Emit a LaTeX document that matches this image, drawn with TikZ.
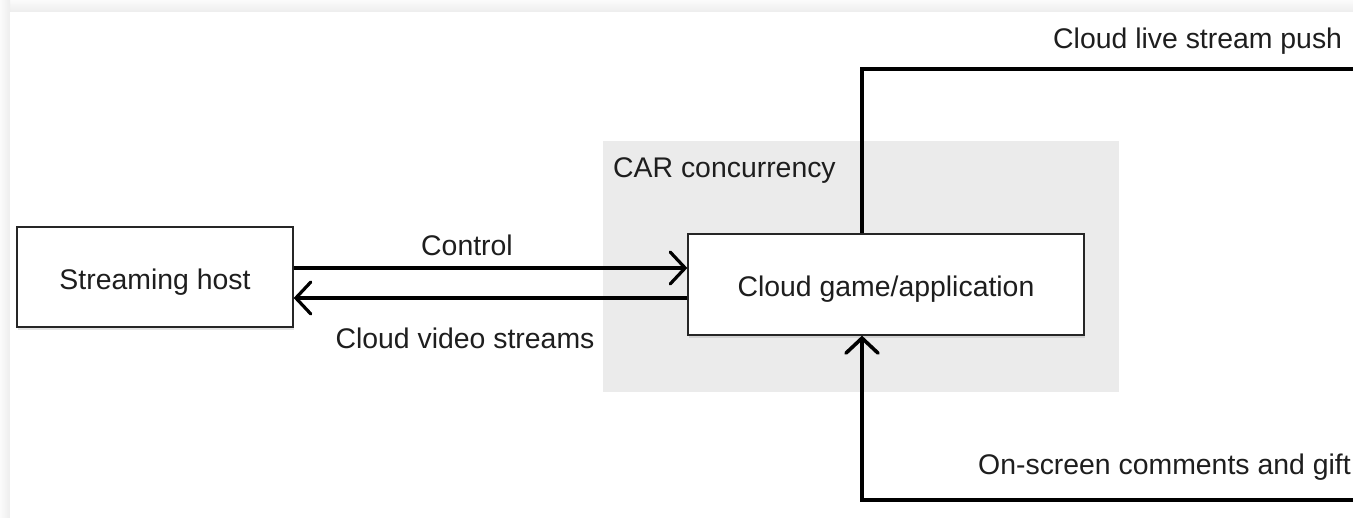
\documentclass[tikz,border=0pt]{standalone}
\usepackage{fontspec}
\setmainfont{Liberation Sans}
\usetikzlibrary{arrows.meta,shadows}
\definecolor{areagray}{HTML}{EBEBEB}
\definecolor{txt}{HTML}{1E1E1E}
\tikzset{
  box/.style={draw=black!85, line width=1.3pt, fill=white, inner sep=0pt,
    text height=25pt, text depth=0pt,
    drop shadow={shadow xshift=1pt, shadow yshift=-3pt, opacity=0.22}},
  lbl/.style={text=txt, inner sep=0pt, font=\fontsize{28.4}{34}\selectfont},
  conn/.style={line width=3.2pt, draw=black},
  barb/.style={-{Straight Barb[length=15pt,width=32pt,line cap=round]}},
}
\begin{document}
\begin{tikzpicture}[x=1pt,y=-1pt]
\useasboundingbox (0,0) rectangle (1353,518);
\fill[white] (0,0) rectangle (1353,518);
% window shadow frame
\shade[top color=gray!3, bottom color=gray!14] (0,0) rectangle (1353,12);
\shade[left color=gray!3, right color=gray!14] (0,0) rectangle (10,518);
\fill[white] (10,12) rectangle (1353,518);
% CAR area
\fill[areagray] (603,141) rectangle (1119,392);
\node[lbl, anchor=west] (car) at (613,171) {CAR concurrency};
% boxes
\node[box, minimum width=276pt, minimum height=100pt, lbl] (host) at (155,277) {Streaming host};
\node[box, minimum width=396pt, minimum height=101pt, lbl] (app) at (886,284.5) {Cloud game/application};
% control / video
\coordinate (cy) at (0,268);
\coordinate (vy) at (0,298);
\draw[conn, barb] (host.east |- cy) -- (app.west |- cy);
\draw[conn, barb] (app.west |- vy) -- (host.east |- vy);
\node[lbl] (control) at (467,245) {Control};
\node[lbl] (video) at (465,338) {Cloud video streams};
% push
\coordinate (tx) at (862,0);
\coordinate (pushEnd) at (1353,69);
\draw[conn, line width=3.6pt] (app.north -| tx) |- (pushEnd);
\node[lbl, anchor=west] (push) at (1053,41) {Cloud live stream push};
% comments
\coordinate (comEnd) at (1353,500);
\draw[conn, line width=3.6pt, barb] (comEnd) -| (app.south -| tx);
\node[lbl, anchor=west] (com) at (978,467) {On-screen comments and gift};
\end{tikzpicture}
\end{document}
